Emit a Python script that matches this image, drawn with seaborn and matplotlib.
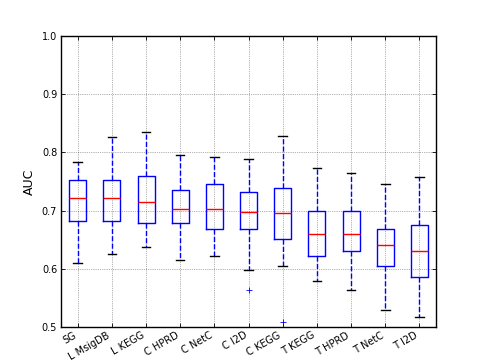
import numpy as np
import pandas as pd
import seaborn as sns
import matplotlib
matplotlib.use('Agg')
import matplotlib.pyplot as plt

# =======================
# Datos (resumen de cada caja)
# =======================
categories = ['SG', 'L MsigDB', 'L KEGG', 'C HPRD', 'C NetC', 'C I2D',
              'C KEGG', 'T KEGG', 'T HPRD', 'T NetC', 'T I2D']
whisker_low = [0.610, 0.625, 0.638, 0.615, 0.622, 0.597, 0.604, 0.579, 0.563, 0.529, 0.517]
q1 = [0.682, 0.682, 0.678, 0.679, 0.669, 0.668, 0.651, 0.622, 0.631, 0.605, 0.586]
median = [0.721, 0.722, 0.715, 0.703, 0.703, 0.697, 0.695, 0.660, 0.659, 0.640, 0.631]
q3 = [0.752, 0.752, 0.760, 0.736, 0.745, 0.732, 0.738, 0.699, 0.699, 0.669, 0.675]
whisker_high = [0.783, 0.827, 0.836, 0.796, 0.792, 0.788, 0.828, 0.773, 0.765, 0.745, 0.757]
fliers = [[], [], [], [], [], [0.563], [0.508], [], [], [], []]

# tabla larga para seaborn: cada cuartil repetido para que los percentiles caigan justo
rows = []
for i, cat in enumerate(categories):
    vals = [whisker_low[i]] + [q1[i]] * 20 + [median[i]] * 20 + [q3[i]] * 20 + [whisker_high[i]] + fliers[i]
    for v in vals:
        rows.append({'method': cat, 'AUC': v})
df = pd.DataFrame(rows)

# =======================
# Gráfico
# =======================
fig, ax = plt.subplots(figsize=(4.85, 3.63), dpi=100)
fig.subplots_adjust(left=0.125, right=0.9, top=0.9, bottom=0.1)

sns.boxplot(data=df, x='method', y='AUC', order=categories, ax=ax,
            width=0.5, whis=1.5, fill=False, color='blue', saturation=1,
            linecolor='blue', linewidth=1.0, fliersize=4,
            boxprops=dict(color='blue'),
            medianprops=dict(color='red', linewidth=1.0),
            whiskerprops=dict(color='blue', linestyle='--', linewidth=1.0),
            capprops=dict(color='black', linewidth=1.0),
            flierprops=dict(marker='+', markeredgecolor='blue', markerfacecolor='blue',
                            markeredgewidth=0.6))

ax.set_ylim(0.5, 1.0)
ax.set_xlim(-0.5, len(categories) - 0.5)
ax.set_yticks(np.arange(0.5, 1.01, 0.1))
ax.set_yticklabels(['0.5', '0.6', '0.7', '0.8', '0.9', '1.0'], fontsize=7)
ax.set_xticks(range(len(categories)))
ax.set_xticklabels(categories, rotation=30, ha='right', fontsize=7)
ax.set_xlabel('')
ax.set_ylabel('AUC', fontsize=9)
ax.grid(True, color='black', linestyle=':', linewidth=0.5, alpha=0.6)
ax.set_axisbelow(True)
ax.tick_params(direction='in', top=True, right=True, length=3, width=0.6, pad=2.5)
for s in ax.spines.values():
    s.set_linewidth(1.0)
    s.set_color('black')

plt.savefig('out.png', dpi=100)
plt.close()
